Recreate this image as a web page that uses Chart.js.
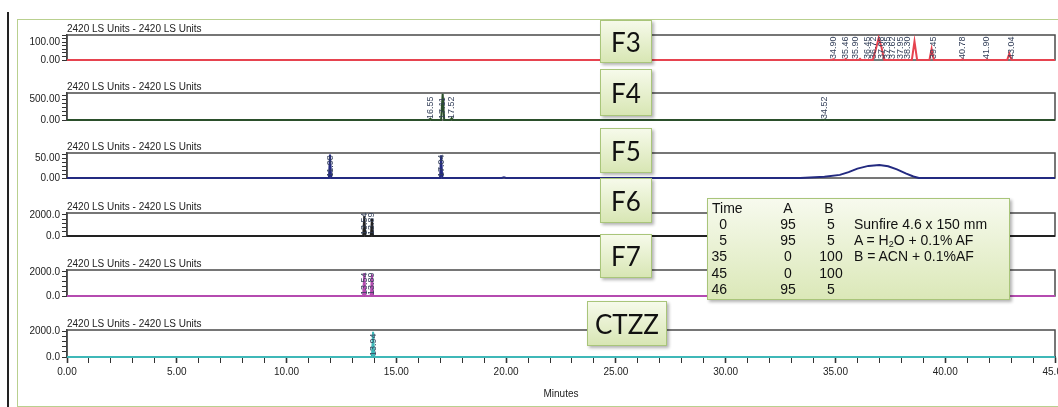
<!DOCTYPE html>
<html>
<head>
<meta charset="utf-8">
<script src="https://cdn.jsdelivr.net/npm/chart.js@4.4.0/dist/chart.umd.min.js"></script>
<style>
  html, body { margin: 0; padding: 0; background: #fff; overflow: hidden; }
  #stage { position: relative; width: 1058px; height: 407px; overflow: hidden; }
  #stage canvas { position: absolute; left: 10px; }
  .frame { position: absolute; left: 17px; top: 19px; width: 1060px; height: 386px; border: 1.5px solid #b9d08f; }
  .vline { position: absolute; left: 7px; top: 12px; width: 2px; height: 400px; background: #222; }
  .tag {
    position: absolute; box-sizing: border-box; z-index: 5;
    border: 1.5px solid #a9c57a; background: linear-gradient(#f6faea, #d8e6b4);
    box-shadow: 2px 2px 3px rgba(0,0,0,.3);
    font-family: Lato, "Open Sans", sans-serif; font-size: 26px; color: #111;
    display: flex; align-items: center; justify-content: center;
  }
  #grad {
    position: absolute; left: 707px; top: 198px; width: 303px; height: 102px; box-sizing: border-box; z-index: 6;
    border: 1.5px solid #a9c57a; background: linear-gradient(#f7faee, #dbe8b8);
    box-shadow: 2px 2px 3px rgba(0,0,0,.3);
    font-family: "Liberation Sans", Arial, sans-serif; font-size: 14px; color: #111;
  }
  #grad div { position: absolute; line-height: 16px; white-space: nowrap; }
  #grad sub { font-size: 9px; vertical-align: -2px; }
</style>
</head>
<body>
<div id="stage">
  <div class="vline"></div>
  <div class="frame"></div>
  <div class="tag" style="left:600px;top:20px;width:52px;height:43px">F3</div>
  <div class="tag" style="left:600px;top:69px;width:52px;height:47px">F4</div>
  <div class="tag" style="left:600px;top:128px;width:52px;height:45px">F5</div>
  <div class="tag" style="left:600px;top:178px;width:52px;height:45px">F6</div>
  <div class="tag" style="left:600px;top:234px;width:52px;height:44px">F7</div>
  <div class="tag" style="left:587px;top:301px;width:80px;height:45px">CTZZ</div>
  <div id="grad"></div>
</div>
<script>
// ---------- data ----------
const panelTitle = '2420 LS Units - 2420 LS Units';

const f3Time   = [0, 34.85, 34.9, 34.95, 35.41, 35.46, 35.51, 36.07, 36.12, 36.17, 36.7, 36.84, 36.97, 37.1, 37.22, 38.48, 38.6, 38.72, 39.28, 39.38, 39.48, 40.73, 40.78, 40.83, 41.85, 41.9, 41.95, 42.82, 42.92, 43.02, 45];
const f3Signal = [0, 0, 4, 0, 0, 5, 0, 0, 6, 0, 0, 60, 124, 70, 0, 0, 104, 0, 0, 62, 0, 0, 4, 0, 0, 4, 0, 0, 36, 0, 0];
const f3Peaks  = [34.9, 35.46, 35.9, 36.45, 36.72, 37.08, 37.35, 37.62, 37.95, 38.3, 39.45, 40.78, 41.9, 43.04];

const f4Time   = [0, 16.5, 16.55, 16.6, 17.04, 17.11, 17.18, 17.47, 17.52, 17.57, 34.47, 34.52, 34.57, 45];
const f4Signal = [0, 0, 30, 0, 0, 640, 0, 0, 45, 0, 0, 12, 0, 0];
const f4Peaks  = [16.55, 17.11, 17.52, 34.52];

const f5Time   = [0, 11.93, 11.98, 12.03, 16.99, 17.04, 17.09, 19.8, 19.9, 20.0, 33.4, 34.5, 35.2, 35.6, 36.0, 36.5, 37.0, 37.4, 37.8, 38.2, 38.55, 38.8, 45];
const f5Signal = [0, 0, 60, 0, 0, 58, 0, 0, 2, 0, 0, 3, 8, 15, 24, 31, 33, 30, 22, 12, 4, 0, 0];
const f5Peaks  = [11.98, 17.04];

const f6Time   = [0, 13.49, 13.54, 13.59, 13.84, 13.89, 13.94, 45];
const f6Signal = [0, 0, 1900, 0, 0, 1600, 0, 0];
const f6Peaks  = [13.54, 13.89];

const f7Time   = [0, 13.49, 13.54, 13.59, 13.84, 13.89, 13.94, 45];
const f7Signal = [0, 0, 1900, 0, 0, 1800, 0, 0];
const f7Peaks  = [13.54, 13.89];

const ctzzTime   = [0, 13.89, 13.94, 13.99, 45];
const ctzzSignal = [0, 0, 1950, 0, 0];
const ctzzPeaks  = [13.94];

// y axis tick values (minor) and labelled ticks
const f3YTicks = [0, 20, 40, 60, 80, 100, 120, 140];
const f4YTicks = [0, 100, 200, 300, 400, 500, 600];
const f5YTicks = [0, 10, 20, 30, 40, 50, 60];
const bigYTicks = [0, 400, 800, 1200, 1600, 2000];

const xTickValues = Array.from({length: 46}, (_, i) => i);

// gradient table
const gradTime = [0, 5, 35, 45, 46];
const gradA = [95, 95, 0, 0, 95];
const gradB = [5, 5, 100, 100, 5];
const gradNotes = ['Sunfire 4.6 x 150 mm', 'A = H<sub>2</sub>O + 0.1% AF', 'B = ACN + 0.1%AF'];

// ---------- gradient box ----------
const grad = document.getElementById('grad');
function cell(html, left, top, align) {
  const d = document.createElement('div');
  d.innerHTML = html;
  d.style.top = top + 'px';
  if (align === 'right') { d.style.right = (303 - left) + 'px'; }
  else if (align === 'center') { d.style.left = (left - 20) + 'px'; d.style.width = '40px'; d.style.textAlign = 'center'; }
  else { d.style.left = left + 'px'; }
  grad.appendChild(d);
}
cell('Time', 4, 1);
cell('A', 80, 1, 'center');
cell('B', 121, 1, 'center');
gradTime.forEach((t, i) => {
  const top = 17 + i * 16.2;
  cell(String(t), 21, top, 'right');
  cell(String(gradA[i]), 80, top, 'center');
  cell(String(gradB[i]), 123, top, 'center');
});
gradNotes.forEach((n, i) => cell(n, 146, 17 + i * 16.2));

// ---------- panels ----------
const panelDeco = {
  id: 'panelDeco',
  beforeDatasetsDraw(chart) {
    const {ctx, chartArea: a} = chart;
    ctx.save();
    ctx.strokeStyle = '#4a4a4a';
    ctx.lineWidth = 1.5;
    ctx.strokeRect(a.left, a.top, a.right - a.left, a.bottom - a.top);
    ctx.font = '10px "Liberation Sans"';
    ctx.fillStyle = '#222';
    ctx.textBaseline = 'bottom';
    ctx.fillText(panelTitle, a.left, a.top - 1);
    ctx.restore();
  },
  afterDatasetsDraw(chart, args, opts) {
    const {ctx, chartArea: a, scales: {x}} = chart;
    ctx.save();
    ctx.font = '9px "Liberation Sans"';
    ctx.fillStyle = '#34405a';
    ctx.textAlign = 'left';
    ctx.textBaseline = 'middle';
    opts.peaks.forEach(t => {
      ctx.save();
      ctx.translate(x.getPixelForValue(t), a.bottom - 1);
      ctx.rotate(-Math.PI / 2);
      ctx.fillText(t.toFixed(2), 0, 0);
      ctx.restore();
    });
    ctx.restore();
  }
};

const stage = document.getElementById('stage');

function makePanel(boxTop, boxH, times, signal, color, yMax, yTicks, yLabelled, digits, peaks, isLast) {
  const padTop = 16, padBottom = 6, axisH = isLast ? 43 : 0;
  const canvas = document.createElement('canvas');
  canvas.width = 1065;
  canvas.height = padTop + boxH + axisH + padBottom;
  canvas.style.top = (boxTop - padTop) + 'px';
  stage.appendChild(canvas);

  return new Chart(canvas, {
    type: 'line',
    data: {
      datasets: [{
        data: times.map((t, i) => ({x: t, y: signal[i]})),
        borderColor: color,
        borderWidth: 2,
        pointRadius: 0,
        tension: 0,
        clip: {left: 0, top: 0, right: 0, bottom: 3}
      }]
    },
    plugins: [panelDeco],
    options: {
      responsive: false,
      animation: false,
      devicePixelRatio: 1,
      layout: {padding: {left: 0, right: 20, top: padTop, bottom: padBottom}},
      plugins: {
        legend: {display: false},
        tooltip: {enabled: false},
        panelDeco: {peaks: peaks}
      },
      scales: {
        x: {
          type: 'linear',
          min: 0,
          max: 45,
          display: isLast,
          afterBuildTicks: s => { s.ticks = xTickValues.map(v => ({value: v})); },
          afterFit: s => { s.height = axisH; },
          ticks: {
            autoSkip: false,
            maxRotation: 0,
            padding: 3,
            color: '#222',
            font: {family: 'Liberation Sans', size: 10},
            callback: v => v % 5 === 0 ? v.toFixed(2) : ''
          },
          grid: {drawOnChartArea: false, tickLength: 6, color: '#333',
                 tickWidth: c => (c.tick && c.tick.value % 5 === 0) ? 1.6 : 1},
          border: {display: true, color: '#333', width: 1.5},
          title: {display: true, text: 'Minutes', color: '#222',
                  font: {family: 'Liberation Sans', size: 10}, padding: {top: 6, bottom: 0}}
        },
        y: {
          min: 0,
          max: yMax,
          afterBuildTicks: s => { s.ticks = yTicks.map(v => ({value: v})); },
          afterFit: s => { s.width = 57; },
          ticks: {
            autoSkip: false,
            padding: 2,
            color: '#222',
            font: {family: 'Liberation Sans', size: 10},
            callback: v => yLabelled.includes(v) ? v.toFixed(digits) : ''
          },
          grid: {drawOnChartArea: false, tickLength: 5, color: '#333'},
          border: {display: true, color: '#333', width: 1.5}
        }
      }
    }
  });
}

makePanel(35, 27, f3Time, f3Signal, '#e6434f', 140, f3YTicks, [0, 100], 2, f3Peaks, false);
makePanel(93, 29, f4Time, f4Signal, '#2b4f2b', 660, f4YTicks, [0, 500], 2, f4Peaks, false);
makePanel(153, 27, f5Time, f5Signal, '#232a80', 64, f5YTicks, [0, 50], 2, f5Peaks, false);
makePanel(213, 25, f6Time, f6Signal, '#222222', 2170, bigYTicks, [0, 2000], 1, f6Peaks, false);
makePanel(270, 28, f7Time, f7Signal, '#b54bb0', 2150, bigYTicks, [0, 2000], 1, f7Peaks, false);
makePanel(330, 27, ctzzTime, ctzzSignal, '#3fb8b8', 2080, bigYTicks, [0, 2000], 1, ctzzPeaks, true);
</script>
</body>
</html>
